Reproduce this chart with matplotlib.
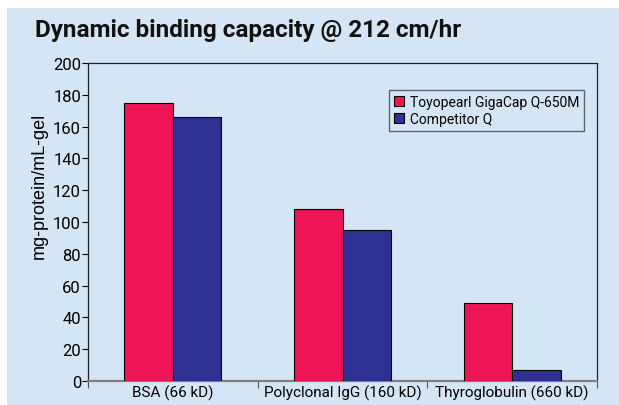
import matplotlib.pyplot as plt
import numpy as np

categories = ["BSA (66 kD)", "Polyclonal IgG (160 kD)", "Thyroglobulin (660 kD)"]
gigacap = [175, 108, 49]
competitor = [166, 95, 7]
series_names = ["Toyopearl GigaCap Q-650M", "Competitor Q"]

bg = "#d4e6f5"
red = "#ed1556"
blue = "#2e3192"
narrow = ["Liberation Sans Narrow", "Roboto", "DejaVu Sans"]

fig = plt.figure(figsize=(6.19, 4.06), dpi=100)
# white strip at top and left, blue panel elsewhere
panel = plt.Rectangle((7 / 619, 0), 1, 1 - 9 / 406, transform=fig.transFigure,
                      facecolor=bg, edgecolor="none", zorder=-10)
fig.add_artist(panel)
ax = fig.add_axes([88 / 619, 1 - 382 / 406, 509 / 619, 318 / 406])
ax.set_facecolor(bg)

x = np.arange(len(categories))
w = 1 / 3.5
ax.bar(x - w / 2, gigacap, w, color=red, edgecolor="black", linewidth=0.8, label=series_names[0], zorder=3)
ax.bar(x + w / 2, competitor, w, color=blue, edgecolor="black", linewidth=0.8, label=series_names[1], zorder=3)

ax.set_xlim(-0.5, 2.5)
ax.set_ylim(0, 200)
ax.set_yticks(range(0, 201, 20))
ax.set_yticklabels([str(v) for v in range(0, 201, 20)], family=narrow, fontsize=12)
ax.set_xticks([-0.5, 0.5, 1.5, 2.5])
ax.set_xticklabels([])
ax.set_xticks(x, minor=True)
ax.set_xticklabels(categories, minor=True, family=narrow, fontsize=11)
ax.tick_params(axis="x", which="minor", length=0, pad=3)
ax.tick_params(axis="x", which="major", length=5, width=0.8, color="#555555")
ax.tick_params(axis="y", length=4, width=0.8, pad=1)

for s in ["left", "top", "right"]:
    ax.spines[s].set_color("#222222")
    ax.spines[s].set_linewidth(0.9)
ax.spines["bottom"].set_color("#808080")
ax.spines["bottom"].set_linewidth(1.6)

ax.set_ylabel("mg-protein/mL-gel", family=["Liberation Sans", "DejaVu Sans"], fontsize=13)
ax.yaxis.set_label_coords(-0.079, 0.616)

leg = ax.legend(loc="upper right", bbox_to_anchor=(0.974, 0.915), frameon=True, fancybox=False,
                prop={"family": narrow, "size": 10}, handlelength=0.7, handleheight=0.7,
                handletextpad=0.4, borderpad=0.35, labelspacing=0.2, borderaxespad=0)
leg.get_frame().set_facecolor(bg)
leg.get_frame().set_edgecolor("#444444")
leg.get_frame().set_linewidth(1.0)

fig.text(35 / 619, 1 - 30 / 406, "Dynamic binding capacity @ 212 cm/hr", family=narrow,
         fontsize=17.5, fontweight="bold", va="center", ha="left", color="#111111")

fig.savefig("out.png", dpi=100, facecolor="white")
